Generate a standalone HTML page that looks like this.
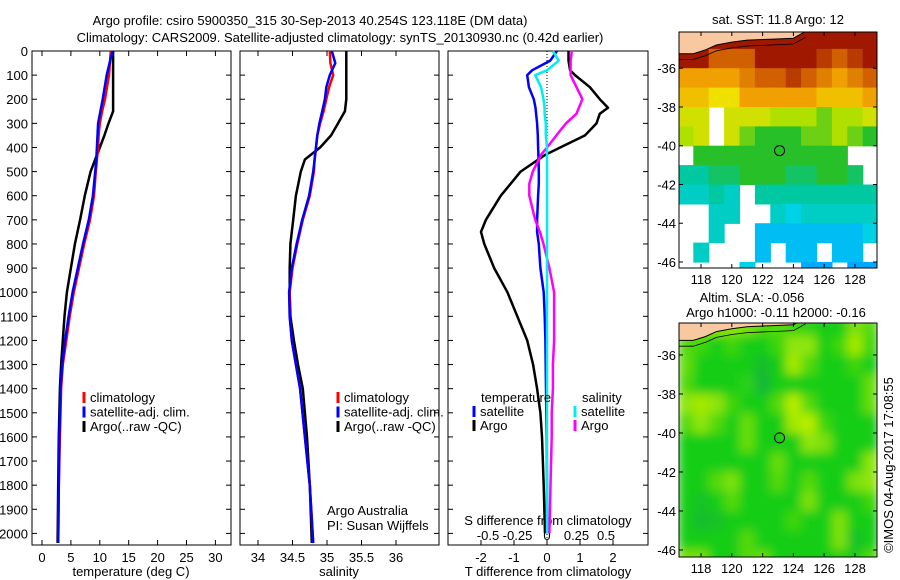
<!DOCTYPE html>
<html><head><meta charset="utf-8"><style>
body{margin:0;background:#fff;}
svg{display:block;font-family:"Liberation Sans",sans-serif;}
text{font-size:13px;fill:#000;}
</style></head><body>
<svg id="c" width="900" height="580" viewBox="0 0 900 580"></svg>
<script>
// ---------- data ----------
const depthTicks=[0,100,200,300,400,500,600,700,800,900,1000,1100,1200,1300,1400,1500,1600,1700,1800,1900,2000];
const tempTicks=[0,5,10,15,20,25,30];
const salTicks=[34,34.5,35,35.5,36];
const tdTicks=[-2,-1,0,1,2];
const sdTicks=[-0.5,-0.25,0,0.25,0.5];
const tDepth=[0,100,200,250,300,350,400,450,500,600,700,800,900,1000,1100,1200,1300,1400,1600,1800,2040];
const tArgo=[12.3,12.3,12.3,12.3,11.5,10.8,10.0,9.2,8.4,7.4,6.6,5.7,5.0,4.3,3.9,3.6,3.3,3.1,2.9,2.8,2.7];
const tClim=[11.9,11.6,10.9,10.4,10.0,9.8,9.7,9.5,9.3,9.0,8.3,7.3,6.4,5.5,4.8,4.2,3.6,3.3,3.1,2.9,2.8];
const tSat=[12.2,11.2,10.5,10.1,9.7,9.6,9.5,9.4,9.2,8.8,8.1,7.1,6.2,5.3,4.6,4.0,3.5,3.2,3.0,2.9,2.8];
const sDepth=[0,50,100,150,200,250,300,350,400,450,500,600,700,800,900,1000,1100,1200,1300,1400,1600,1800,2040];
const sArgo=[35.28,35.28,35.28,35.28,35.28,35.26,35.16,35.06,34.90,34.68,34.62,34.55,34.51,34.47,34.46,34.46,34.47,34.52,34.58,34.65,34.71,34.75,34.78];
const sClim=[35.04,35.05,35.09,35.03,34.99,34.95,34.90,34.86,34.84,34.82,34.81,34.75,34.65,34.57,34.50,34.46,34.46,34.49,34.55,34.61,34.68,34.75,34.80];
const sSat=[35.07,35.12,35.04,34.99,34.97,34.93,34.89,34.86,34.84,34.82,34.80,34.74,34.64,34.56,34.49,34.45,34.46,34.49,34.55,34.61,34.68,34.75,34.80];
const dDepth=[0,40,80,100,150,200,235,260,300,350,400,430,500,550,600,700,750,800,900,1000,1100,1200,1300,1400,1500,1600,1800,2000];
const dTArgo=[0.65,0.65,0.7,0.85,1.3,1.6,1.85,1.6,1.5,1.15,0.4,-0.05,-0.8,-1.1,-1.4,-1.85,-2.0,-1.9,-1.6,-1.2,-0.9,-0.6,-0.42,-0.3,-0.2,-0.15,-0.1,-0.06];
const dTSat=[0.3,0.1,-0.45,-0.6,-0.55,-0.4,-0.35,-0.33,-0.3,-0.28,-0.27,-0.26,-0.25,-0.25,-0.27,-0.3,-0.3,-0.25,-0.2,-0.1,-0.07,-0.05,-0.04,-0.03,-0.02,-0.01,0,0];
const dSArgo=[0.21,0.2,0.2,0.2,0.25,0.3,0.27,0.25,0.16,0.08,0.0,-0.05,-0.12,-0.15,-0.15,-0.1,-0.06,-0.03,0.02,0.06,0.06,0.06,0.05,0.05,0.04,0.04,0.03,0.02];
const dSSat=[0.05,0.1,0.0,-0.1,-0.05,-0.03,-0.02,-0.02,-0.01,-0.01,0,0,0,0,0,0,0,0,0,0,0,0,0,0,0,0,0,0];
const lonTicks=[118,120,122,124,126,128];
const latTicks=[-36,-38,-40,-42,-44,-46];
const sstGrid=[
[null,null,17,17,17,17,17.5,17.5,17.5,17,17,17,17.5],
[17,17,16,16,16,17,17.5,17.5,17,16.5,16,16.5,17],
[15,15,15,15,15.5,16,16,16.5,16,15.5,15,15.5,16],
[14.5,14.5,14,14,15,15,15,15,15,14.5,14.5,14.5,15],
[13.5,13.5,null,13.5,13.5,13.5,13,13,13,12.5,13,13,13.5],
[13,13.5,null,13.5,12.5,12,12,12,12.5,12.5,13,12.5,12],
[null,12,12,12,12,12,12,12,12,12,12,null,null],
[11,11,11.5,11.5,12,12,12,11.5,11.5,12,12,11.5,null],
[10.5,10.5,11,10.5,null,11,11,11,11,11,11,11,11],
[null,null,10.5,10.5,null,null,10.5,10,10.5,10.5,10.5,10.5,10.5],
[null,null,10.5,null,null,9.5,9.5,9.5,9.5,9.5,9.5,9.5,10],
[null,10.5,null,null,null,9.5,null,9.5,9.5,null,9.5,9.5,null],
[null,null,null,null,10,null,null,null,9,9,null,9,9]];
const slaGrid=[
[0.6,0.6,0.6,0.6,0.5,0.3,0.3,0.2,0.1,0,0,0.5,0.3],
[0.3,0.2,0,0.2,0,0,0.2,0.6,0.6,0,0.2,0.7,0.2],
[0.4,0,0,0,0,-0.3,0,0.7,0.3,0,0,0.2,0],
[0.3,0,0,0,0.1,-0.4,0,0,0,0,0,0,0.4],
[0.6,0.7,0.6,0.2,0,0,0.3,0.8,0.3,0,0,0,0.4],
[0.3,0.6,0.3,0,0.4,0,0,0.7,0.8,0.2,0,0,0],
[0,0,0,0,0.4,0,0,0,0.6,0.5,0,0,0],
[0,0,0,0,0,0,0.4,0,0,0,0,0,0.6],
[0,0,0.3,0.5,0,0,0.3,0,0.3,0,0,0.5,0.6],
[0,-0.2,0,0.3,0,0,0,0,0.5,0,0,0,0.2],
[0,-0.3,-0.2,0,0,0,0,0.2,0,0,0.5,0,0],
[0,0,0,0,0.3,0,0,0,0,0,0.5,-0.2,0],
[0.5,0.5,0,0,0.3,0.4,0,0,0,0,0,0,0.3]];
const argoLon=123.1, argoLat=-40.25;

// ---------- helpers ----------
const NS='http://www.w3.org/2000/svg', svg=document.getElementById('c');
function el(t,a,p){const e=document.createElementNS(NS,t);for(const k in a)e.setAttribute(k,a[k]);(p||svg).appendChild(e);return e;}
function txt(s,x,y,a,p){const e=el('text',Object.assign({x:x,y:y},a||{}),p);e.textContent=s;return e;}
const yD=d=>51+d*0.2412;
const BOT=545;
const P=[{x0:32,x1:231,f:v=>42+v*5.78},{x0:240,x1:439,f:v=>258+(v-34)*69},{x0:448,x1:648,f:v=>547+v*33}];
const fS=v=>547+v*118;

let t=txt('Argo profile: csiro 5900350_315 30-Sep-2013 40.254S 123.118E (DM data)',310,25,{'text-anchor':'middle','font-size':'14'});

t=txt('Climatology: CARS2009. Satellite-adjusted climatology: synTS_20130930.nc (0.42d earlier)',340,42,{'text-anchor':'middle','font-size':'14'});


const panelNames=['temperature-panel','salinity-panel','difference-panel'];
P.forEach((p,i)=>{
  const g=el('g',{});
  
  el('rect',{x:p.x0,y:51,width:p.x1-p.x0,height:BOT-51,fill:'none',stroke:'#000','stroke-width':1},g);
  depthTicks.forEach(d=>{
    el('line',{x1:p.x0,x2:p.x0+5,y1:yD(d),y2:yD(d),stroke:'#000'},g);
    el('line',{x1:p.x1-5,x2:p.x1,y1:yD(d),y2:yD(d),stroke:'#000'},g);
  });
});
depthTicks.forEach(d=>{const e=txt(String(d),28,yD(d)+5,{'text-anchor':'end'});});
tempTicks.forEach(v=>{const x=P[0].f(v);el('line',{x1:x,x2:x,y1:51,y2:56,stroke:'#000'});el('line',{x1:x,x2:x,y1:BOT-5,y2:BOT,stroke:'#000'});
  const e=txt(String(v),x,562,{'text-anchor':'middle'});});
salTicks.forEach(v=>{const x=P[1].f(v);el('line',{x1:x,x2:x,y1:51,y2:56,stroke:'#000'});el('line',{x1:x,x2:x,y1:BOT-5,y2:BOT,stroke:'#000'});
  const e=txt(String(v),x,562,{'text-anchor':'middle'});});
tdTicks.forEach(v=>{const x=P[2].f(v);el('line',{x1:x,x2:x,y1:BOT-5,y2:BOT,stroke:'#000'});
  const e=txt(String(v),x,562,{'text-anchor':'middle'});});
sdTicks.forEach(v=>{const e=txt(String(v),fS(v),540,{'text-anchor':'middle'});});
t=txt('temperature (deg C)',131,576,{'text-anchor':'middle'});
t=txt('salinity',339,576,{'text-anchor':'middle'});
t=txt('T difference from climatology',548,576,{'text-anchor':'middle'});
t=txt('S difference from climatology',548,525,{'text-anchor':'middle'});
el('line',{x1:547,x2:547,y1:51,y2:BOT,stroke:'#000','stroke-dasharray':'1,2'});

function line(xs,ds,fx,col,name,w){
  let pts=[];ds.forEach((d,i)=>pts.push(fx(xs[i]).toFixed(1)+','+yD(d).toFixed(1)));
  const e=el('polyline',{points:pts.join(' '),fill:'none',stroke:col,'stroke-width':w||2.5,'stroke-linejoin':'round'});
  
}
line(tArgo,tDepth,P[0].f,'#000','temp-argo-line');
line(tClim,tDepth,P[0].f,'#f00','temp-climatology-line');
line(tSat,tDepth,P[0].f,'#00f','temp-satellite-line');
line(sArgo,sDepth,P[1].f,'#000','sal-argo-line');
line(sClim,sDepth,P[1].f,'#f00','sal-climatology-line');
line(sSat,sDepth,P[1].f,'#00f','sal-satellite-line');
line(dTArgo,dDepth,P[2].f,'#000','tdiff-argo-line');
line(dTSat,dDepth,P[2].f,'#00f','tdiff-satellite-line');
line(dSArgo,dDepth,fS,'#f0f','sdiff-argo-line');
line(dSSat,dDepth,fS,'#0ee','sdiff-satellite-line');

function leg(x,y,col,label,name){
  el('line',{x1:x,x2:x,y1:y-10,y2:y+1,stroke:col,'stroke-width':3});
  const e=txt(label,x+6,y);
}
[[84,'climatology','#f00'],[84,'satellite-adj. clim.','#00f'],[84,'Argo(..raw -QC)','#000']].forEach((a,i)=>leg(a[0],402+i*14.5,a[2],a[1],'legend-temp-'+i));
[[338,'climatology','#f00'],[338,'satellite-adj. clim.','#00f'],[338,'Argo(..raw -QC)','#000']].forEach((a,i)=>leg(a[0],402+i*14.5,a[2],a[1],'legend-sal-'+i));
t=txt('temperature',481,402);
t=txt('salinity',582,402);
leg(474,416,'#00f','satellite','legend-tdiff-satellite');
leg(474,430,'#000','Argo','legend-tdiff-argo');
leg(575,416,'#0ee','satellite','legend-sdiff-satellite');
leg(575,430,'#f0f','Argo','legend-sdiff-argo');
t=txt('Argo Australia',327,515,{'font-size':'12'});
t=txt('PI: Susan Wijffels',327,530,{'font-size':'12'});

// ---------- maps ----------
const rgb=c=>'rgb('+c.join(',')+')';
function lerpCol(stops,v){
  if(v<=stops[0][0])return rgb(stops[0][1]);
  for(let i=1;i<stops.length;i++){if(v<=stops[i][0]){const a=stops[i-1],b=stops[i],f=(v-a[0])/(b[0]-a[0]);
    return rgb([0,1,2].map(k=>Math.round(a[1][k]+(b[1][k]-a[1][k])*f)));}}
  return rgb(stops[stops.length-1][1]);
}
const sstStops=[[9,[0,168,255]],[10,[0,210,230]],[11,[0,200,160]],[12,[40,192,40]],[13,[176,224,0]],[14,[240,224,0]],[15,[240,160,0]],[16,[208,96,0]],[17,[160,24,0]]];
const slaStops=[[-1,[16,150,110]],[0,[20,205,20]],[1,[225,245,0]]];
function drawMap(x0,y0,w,h,latTop,latBot,grid,stops,name,blur){
  const lonL=116.57,lonR=129.43;
  const fx=lo=>x0+(lo-lonL)/(lonR-lonL)*w, fy=la=>y0+(latTop-la)/(latTop-latBot)*h;
  const g=el('g',{});
  const cid='clip'+name;const cp=el('clipPath',{id:cid},g);el('rect',{x:x0,y:y0,width:w,height:h},cp);
  const cg=el('g',{'clip-path':'url(#'+cid+')'},g);
  const inner=el('g',blur?{filter:'url(#blur)'}:{},cg);
  grid.forEach((row,r)=>row.forEach((v,c)=>{
    if(v===null)return;
    const lo=116.5+c,la=-34-r;
    const cell=el('rect',{x:fx(lo).toFixed(1),y:fy(la).toFixed(1),width:(fx(lo+1)-fx(lo)+0.6).toFixed(1),height:(fy(la-1)-fy(la)+0.6).toFixed(1),fill:lerpCol(stops,v)},inner);
    
    
  }));
  const coast=[[116.3,-35.25],[117.5,-35.25],[118.3,-35.05],[119,-34.8],[120,-34.65],[121,-34.55],[122.5,-34.5],[124,-34.45],[124.8,-34.1]];
  let d='M'+coast.map(p=>fx(p[0]).toFixed(1)+','+fy(p[1]).toFixed(1)).join(' L');
  el('path',{d:d+' L'+fx(124.8)+','+(y0-5)+' L'+fx(116.3)+','+(y0-5)+'Z',fill:'#f8c8a0'},cg);
  el('path',{d:d,fill:'none',stroke:'#000','stroke-width':1},cg);
  const c2=coast.map(p=>[p[0],p[1]-0.3]);
  el('path',{d:'M'+c2.map(p=>fx(p[0]).toFixed(1)+','+fy(p[1]).toFixed(1)).join(' L'),fill:'none',stroke:'#000','stroke-width':0.8},cg);
  el('rect',{x:x0,y:y0,width:w,height:h,fill:'none',stroke:'#000'},g);
  const m=el('circle',{cx:fx(argoLon),cy:fy(argoLat),r:5,fill:'none',stroke:'#000','stroke-width':1},g);
  
  lonTicks.forEach(lo=>{const x=fx(lo);el('line',{x1:x,x2:x,y1:y0,y2:y0+4,stroke:'#000'},g);el('line',{x1:x,x2:x,y1:y0+h-4,y2:y0+h,stroke:'#000'},g);
    const e=txt(String(lo),x,y0+h+16,{'text-anchor':'middle'},g);});
  latTicks.forEach(la=>{const y=fy(la);el('line',{x1:x0,x2:x0+4,y1:y,y2:y,stroke:'#000'},g);el('line',{x1:x0+w-4,x2:x0+w,y1:y,y2:y,stroke:'#000'},g);
    const e=txt(String(la),x0-3,y+5,{'text-anchor':'end'},g);});
}
const defs=el('defs',{});const flt=el('filter',{id:'blur',x:'-5%',y:'-5%',width:'110%',height:'110%'},defs);el('feGaussianBlur',{stdDeviation:'5'},flt);
drawMap(679,32,198,236,-34.13,-46.31,sstGrid,sstStops,'sst-map',false);
drawMap(679,323,198,234,-34.36,-46.36,slaGrid,slaStops,'sla-map',true);
t=txt('sat. SST: 11.8 Argo: 12',778,24,{'text-anchor':'middle','font-size':'12'});
t=txt('Altim. SLA: -0.056',752,302,{'text-anchor':'middle','font-size':'12'});
t=txt('Argo h1000: -0.11 h2000: -0.16',776,317,{'text-anchor':'middle','font-size':'12'});
t=txt('©IMOS 04-Aug-2017 17:08:55',0,0,{'text-anchor':'middle','font-size':'12',transform:'translate(893,465) rotate(-90)'});
</script>
</body></html>
